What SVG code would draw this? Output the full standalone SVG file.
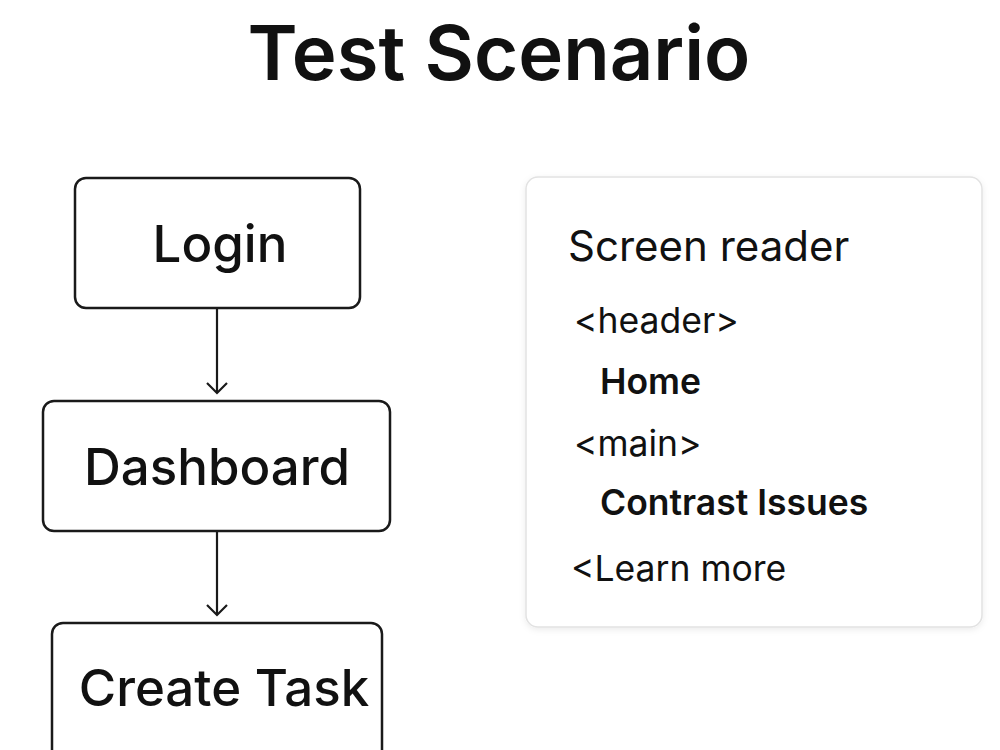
<svg xmlns="http://www.w3.org/2000/svg" width="1000" height="750" viewBox="0 0 1000 750">
<defs>
<style>
.t{font-family:Inter,"Liberation Sans",sans-serif;fill:#111}
.box{fill:#fff;stroke:#1a1a1a;stroke-width:2.5}
.lbl{font-size:51px;font-weight:500;text-anchor:middle}
.conn{stroke:#1a1a1a;stroke-width:2.2;fill:none}
.sr{font-size:35.5px;font-weight:400}
.srb{font-size:35.5px;font-weight:600}
</style>
<marker id="arr" viewBox="0 0 14 22" refX="12" refY="11" markerWidth="14" markerHeight="22" markerUnits="userSpaceOnUse" orient="auto">
<path d="M2,1 L12,11 L2,21" fill="none" stroke="#1a1a1a" stroke-width="2.2"/>
</marker>
<filter id="sh" x="-5%" y="-5%" width="110%" height="110%">
<feDropShadow dx="0" dy="2" stdDeviation="3" flood-color="#000" flood-opacity="0.08"/>
</filter>
</defs>
<rect width="1000" height="750" fill="#fff"/>
<text class="t" x="499" y="80" font-size="76" font-weight="600" text-anchor="middle">Test Scenario</text>
<g id="connectors">
<path class="conn" d="M217,308 V393" marker-end="url(#arr)"/>
<path class="conn" d="M217,531 V615" marker-end="url(#arr)"/>
</g>
<g id="login">
<rect class="box" x="75" y="178" width="285" height="130" rx="11"/>
<text class="t lbl" x="220" y="262">Login</text>
</g>
<g id="dashboard">
<rect class="box" x="43" y="401" width="347" height="130" rx="11"/>
<text class="t lbl" x="217" y="485">Dashboard</text>
</g>
<g id="create-task">
<rect class="box" x="52" y="623" width="330" height="140" rx="11"/>
<text class="t lbl" x="224" y="706">Create Task</text>
</g>
<g id="screen-reader">
<rect x="526" y="177" width="456" height="450" rx="12" fill="#fff" stroke="#e2e2e2" stroke-width="1.5" filter="url(#sh)"/>
<text class="t" x="568" y="261" font-size="42">Screen reader</text>
<text class="t sr" x="574" y="333">&lt;header&gt;</text>
<text class="t srb" x="600" y="394">Home</text>
<text class="t sr" x="574" y="456">&lt;main&gt;</text>
<text class="t srb" x="600" y="515">Contrast Issues</text>
<text class="t sr" x="571" y="581">&lt;Learn more</text>
</g>
</svg>
